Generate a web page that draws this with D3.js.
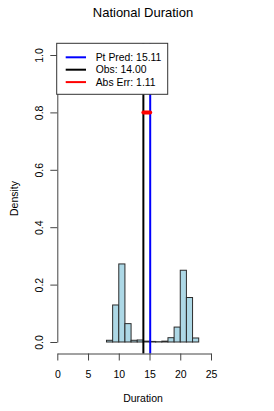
<!DOCTYPE html>
<html>
<head>
<meta charset="utf-8">
<script src="https://cdn.jsdelivr.net/npm/d3@7"></script>
<style>
  body { margin: 0; background: #fff; }
  text { font-family: "Liberation Sans", Arial, sans-serif; fill: #000; }
</style>
</head>
<body>
<div id="chart"></div>
<script>
// histogram bins (width 1) and densities
let binStarts = [6, 7, 8, 9, 10, 11, 12, 13, 14, 15, 16, 17, 18, 19, 20, 21, 22, 23, 24, 25];
let densities = [0, 0, 0.006, 0.129, 0.272, 0.064, 0.006, 0.007, 0.003, 0.002,
                 0.001, 0.003, 0.015, 0.052, 0.25, 0.155, 0.014, 0, 0, 0];
let xTicks = [0, 5, 10, 15, 20, 25];
let yTicks = [0, 0.2, 0.4, 0.6, 0.8, 1.0];
let ptPred = 15.11;
let obs = 14.0;
let redY = 0.8;
let legendLabels = ["Pt Pred: 15.11", "Obs: 14.00", "Abs Err: 1.11"];
let legendColors = ["#0000ff", "#000000", "#ff0000"];

let width = 274, height = 411;
let plotTop = 43.5, plotBottom = 353.5;

let svg = d3.select("#chart").append("svg")
  .attr("width", width)
  .attr("height", height);

let x = d3.scaleLinear().domain([0, 25]).range([57.3, 211]);
let y = d3.scaleLinear().domain([0, 1]).range([342, 55]);

// Histogram bars
svg.append("g")
  .selectAll("rect")
  .data(binStarts)
  .enter()
  .append("rect")
  .attr("x", (d) => x(d))
  .attr("y", (d, i) => y(densities[i]))
  .attr("width", (d) => x(d + 1) - x(d))
  .attr("height", (d, i) => y(0) - y(densities[i]))
  .attr("fill", "#add8e6")
  .attr("stroke", "#2b2b2b")
  .attr("stroke-width", 1);

// Vertical reference lines
svg.append("line")
  .attr("x1", x(obs)).attr("x2", x(obs))
  .attr("y1", plotTop).attr("y2", plotBottom)
  .attr("stroke", "#000").attr("stroke-width", 2);

svg.append("line")
  .attr("x1", x(ptPred)).attr("x2", x(ptPred))
  .attr("y1", plotTop).attr("y2", plotBottom)
  .attr("stroke", "#0000ff").attr("stroke-width", 2);

// Abs error segment
svg.append("line")
  .attr("x1", x(obs)).attr("x2", x(ptPred))
  .attr("y1", y(redY)).attr("y2", y(redY))
  .attr("stroke", "#ff0000").attr("stroke-width", 4)
  .attr("stroke-linecap", "round");

// X axis
let xAxis = svg.append("g")
  .attr("transform", `translate(0,${plotBottom})`)
  .call(d3.axisBottom(x).tickValues(xTicks).tickSize(7).tickSizeOuter(0).tickPadding(10));

xAxis.selectAll(".tick text")
  .style("font-size", "10.5px")
  .style("font-family", "Liberation Sans, Arial, sans-serif");
xAxis.selectAll("line, path").attr("stroke", "#444");

// Y axis with rotated labels
let yAxis = svg.append("g")
  .attr("transform", "translate(57.3,0)")
  .call(d3.axisLeft(y).tickValues(yTicks).tickFormat(d3.format(".1f")).tickSize(7).tickSizeOuter(0));

yAxis.selectAll(".tick text")
  .attr("x", 0)
  .attr("y", -14)
  .attr("dy", 0)
  .attr("transform", "rotate(-90)")
  .attr("text-anchor", "middle")
  .style("font-size", "10.5px")
  .style("font-family", "Liberation Sans, Arial, sans-serif");
yAxis.selectAll("line, path").attr("stroke", "#444");

// Legend
let legend = svg.append("g");

legend.append("rect")
  .attr("x", 56.7).attr("y", 43.3)
  .attr("width", 111).attr("height", 51)
  .attr("fill", "#fff")
  .attr("stroke", "#333")
  .attr("stroke-width", 1);

let items = legend.selectAll(".item")
  .data(legendLabels)
  .enter()
  .append("g")
  .attr("class", "item")
  .attr("transform", (d, i) => `translate(0,${57.3 + i * 12.4})`);

items.append("line")
  .attr("x1", 65.7).attr("x2", 86)
  .attr("y1", 0).attr("y2", 0)
  .attr("stroke", (d, i) => legendColors[i])
  .attr("stroke-width", 2);

items.append("text")
  .attr("x", 95.7)
  .attr("dy", "0.36em")
  .style("font-size", "10.4px")
  .text((d) => d);

// Title
svg.append("text")
  .attr("x", 143)
  .attr("y", 16.8)
  .attr("text-anchor", "middle")
  .style("font-size", "13px")
  .text("National Duration");

// Axis titles
svg.append("text")
  .attr("x", 143)
  .attr("y", 402)
  .attr("text-anchor", "middle")
  .style("font-size", "10.5px")
  .text("Duration");

svg.append("text")
  .attr("transform", "translate(17.6,198.5) rotate(-90)")
  .attr("text-anchor", "middle")
  .style("font-size", "10.5px")
  .text("Density");
</script>
</body>
</html>
